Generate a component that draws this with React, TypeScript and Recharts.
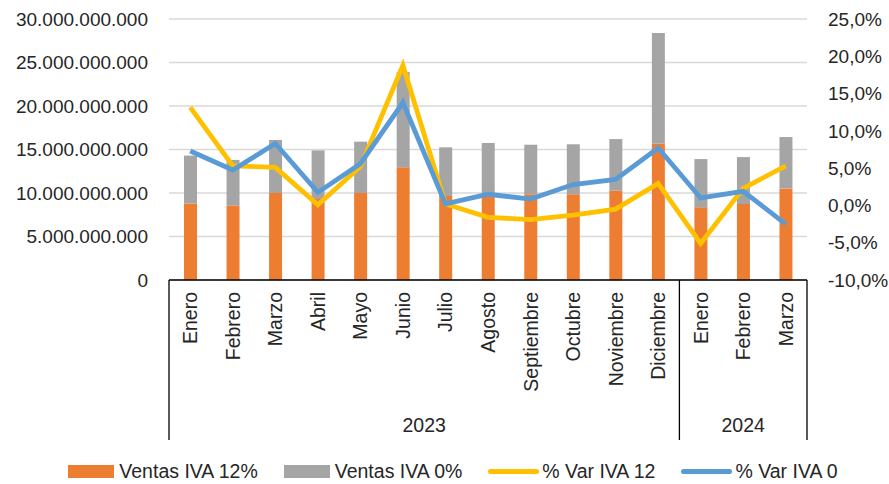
import React from "react";
import {
  ComposedChart,
  Bar,
  Line,
  XAxis,
  YAxis,
  CartesianGrid,
  Legend,
} from "recharts";

const months = [
  "Enero", "Febrero", "Marzo", "Abril", "Mayo", "Junio", "Julio", "Agosto",
  "Septiembre", "Octubre", "Noviembre", "Diciembre", "Enero", "Febrero", "Marzo",
];
const years = [
  "2023", "2023", "2023", "2023", "2023", "2023", "2023", "2023", "2023", "2023", "2023", "2023",
  "2024", "2024", "2024",
];
const ventasIva12 = [
  8.8e9, 8.55e9, 10.0e9, 9.3e9, 10.0e9, 12.95e9, 9.65e9, 9.6e9, 9.85e9, 9.85e9, 10.26e9, 15.7e9,
  8.35e9, 8.73e9, 10.53e9,
];
const ventasIva0 = [
  5.5e9, 5.25e9, 6.1e9, 5.6e9, 5.9e9, 10.95e9, 5.6e9, 6.15e9, 5.7e9, 5.75e9, 5.94e9, 12.7e9,
  5.55e9, 5.4e9, 5.9e9,
];
const varIva12 = [13.15, 5.3, 5.1, 0.1, 5.2, 18.8, 0.2, -1.6, -1.9, -1.3, -0.5, 2.95, -5.1, 2.3, 5.3];
const varIva0 = [7.3, 4.75, 8.3, 1.75, 5.6, 13.8, 0.2, 1.5, 0.85, 2.8, 3.5, 7.7, 1.0, 1.9, -2.5];

const leftTicks = [0, 5e9, 10e9, 15e9, 20e9, 25e9, 30e9];
const rightTicks = [-10, -5, 0, 5, 10, 15, 20, 25];

const data = months.map((m, i) => ({
  idx: i,
  month: m,
  year: years[i],
  v12: ventasIva12[i],
  v0: ventasIva0[i],
  p12: varIva12[i],
  p0: varIva0[i],
}));

const W = 889;
const H = 484;
const MARGIN_TOP = 19;
const LEGEND_H = 39;
const YEAR_H = 45;
const MONTH_H = 120;
const PLOT_BOTTOM = H - LEGEND_H - YEAR_H - MONTH_H;
const FONT = "'Liberation Sans', Arial, sans-serif";
const TEXT = "#262626";

const fmtLeft = (v: number) =>
  String(Math.round(v)).replace(/\B(?=(\d{3})+(?!\d))/g, ".");
const fmtRight = (v: number) => v.toFixed(1).replace(".", ",") + "%";

const MonthTick = (props: any) => {
  const { x, payload } = props;
  const label = months[payload.value];
  return (
    <text
      x={x}
      y={PLOT_BOTTOM + 12}
      transform={`rotate(-90, ${x}, ${PLOT_BOTTOM + 12})`}
      textAnchor="end"
      dy="0.36em"
      fill={TEXT}
      fontSize={19.5}
      fontFamily={FONT}
    >
      {label}
    </text>
  );
};

const groups = (() => {
  const out: { year: string; first: number; count: number }[] = [];
  years.forEach((y, i) => {
    const last = out[out.length - 1];
    if (last && last.year === y) last.count++;
    else out.push({ year: y, first: i, count: 1 });
  });
  return out;
})();

const YearTick = (props: any) => {
  const { x, payload } = props;
  const i = payload.value as number;
  const half = payload.offset ?? 21.25;
  const top = PLOT_BOTTOM;
  const bottom = PLOT_BOTTOM + MONTH_H + YEAR_H - 5;
  const els: React.ReactNode[] = [];
  groups.forEach((g, gi) => {
    if (i === g.first && gi === 0) {
      els.push(<line key="l" x1={x - half} x2={x - half} y1={top} y2={bottom} stroke="#000" strokeWidth={1.3} />);
    }
    if (i === g.first + g.count - 1) {
      els.push(<line key={"r" + gi} x1={x + half} x2={x + half} y1={top} y2={bottom} stroke="#000" strokeWidth={1.3} />);
    }
    const mid = g.first + (g.count - 1) / 2;
    if (i === Math.floor(mid)) {
      const cx = x + (mid - Math.floor(mid)) * 2 * half;
      els.push(
        <text key={"t" + gi} x={cx} y={PLOT_BOTTOM + MONTH_H + 25} textAnchor="middle" dy="0.36em" fill={TEXT} fontSize={19.5} fontFamily={FONT}>
          {g.year}
        </text>
      );
    }
  });
  return <g>{els}</g>;
};

const legendItems = [
  { label: "Ventas IVA 12%", color: "#ED7D31", type: "rect" },
  { label: "Ventas IVA 0%", color: "#A5A5A5", type: "rect" },
  { label: "% Var IVA 12", color: "#FFC000", type: "line" },
  { label: "% Var IVA 0", color: "#5B9BD5", type: "line" },
];

const LegendContent = () => (
  <div
    style={{
      display: "flex",
      justifyContent: "center",
      alignItems: "center",
      gap: 26,
      fontFamily: FONT,
      fontSize: 19.5,
      color: TEXT,
      height: LEGEND_H,
      paddingLeft: 17,
      paddingTop: 14,
      boxSizing: "border-box",
    }}
  >
    {legendItems.map((it) => (
      <div key={it.label} style={{ display: "flex", alignItems: "center" }}>
        {it.type === "rect" ? (
          <div style={{ width: 46, height: 13, background: it.color, marginRight: 5 }} />
        ) : (
          <div style={{ width: 51, height: 5, borderRadius: 3, background: it.color, marginRight: 3 }} />
        )}
        <span>{it.label}</span>
      </div>
    ))}
  </div>
);

export default function App() {
  return (
    <div style={{ position: "fixed", left: 0, top: 0, width: W, height: H, background: "#fff" }}>
      <ComposedChart
        width={W}
        height={H}
        data={data}
        margin={{ top: MARGIN_TOP, right: 0, bottom: 0, left: 0 }}
        barSize={13}
      >
        <CartesianGrid yAxisId="left" vertical={false} stroke="#d9d9d9" strokeWidth={1.3} />
        <XAxis
          xAxisId="month"
          dataKey="idx"
          type="category"
          height={MONTH_H}
          interval={0}
          tickLine={false}
          axisLine={{ stroke: "#000", strokeWidth: 1.3 }}
          tick={<MonthTick />}
        />
        <XAxis
          xAxisId="year"
          dataKey="idx"
          type="category"
          height={YEAR_H}
          interval={0}
          tickLine={false}
          axisLine={false}
          tick={<YearTick />}
        />
        <YAxis
          yAxisId="left"
          orientation="left"
          width={169}
          domain={[0, 30e9]}
          ticks={leftTicks}
          tickFormatter={fmtLeft}
          axisLine={false}
          tickLine={false}
          tickMargin={15}
          tick={{ fill: TEXT, fontSize: 19, fontFamily: FONT }}
        />
        <YAxis
          yAxisId="right"
          orientation="right"
          width={82}
          domain={[-10, 25]}
          ticks={rightTicks}
          tickFormatter={fmtRight}
          axisLine={false}
          tickLine={false}
          tickMargin={15}
          tick={{ fill: TEXT, fontSize: 19, fontFamily: FONT, textAnchor: "start" }}
        />
        <Bar xAxisId="month" yAxisId="left" dataKey="v12" stackId="a" fill="#ED7D31" isAnimationActive={false} />
        <Bar xAxisId="month" yAxisId="left" dataKey="v0" stackId="a" fill="#A5A5A5" isAnimationActive={false} />
        <Line xAxisId="month" yAxisId="right" dataKey="p12" type="linear" stroke="#FFC000" strokeWidth={4.8} dot={false} isAnimationActive={false} />
        <Line xAxisId="month" yAxisId="right" dataKey="p0" type="linear" stroke="#5B9BD5" strokeWidth={4.8} dot={false} isAnimationActive={false} />
        <Legend verticalAlign="bottom" height={LEGEND_H} content={<LegendContent />} wrapperStyle={{ bottom: 0, left: 0, width: W }} />
      </ComposedChart>
    </div>
  );
}
